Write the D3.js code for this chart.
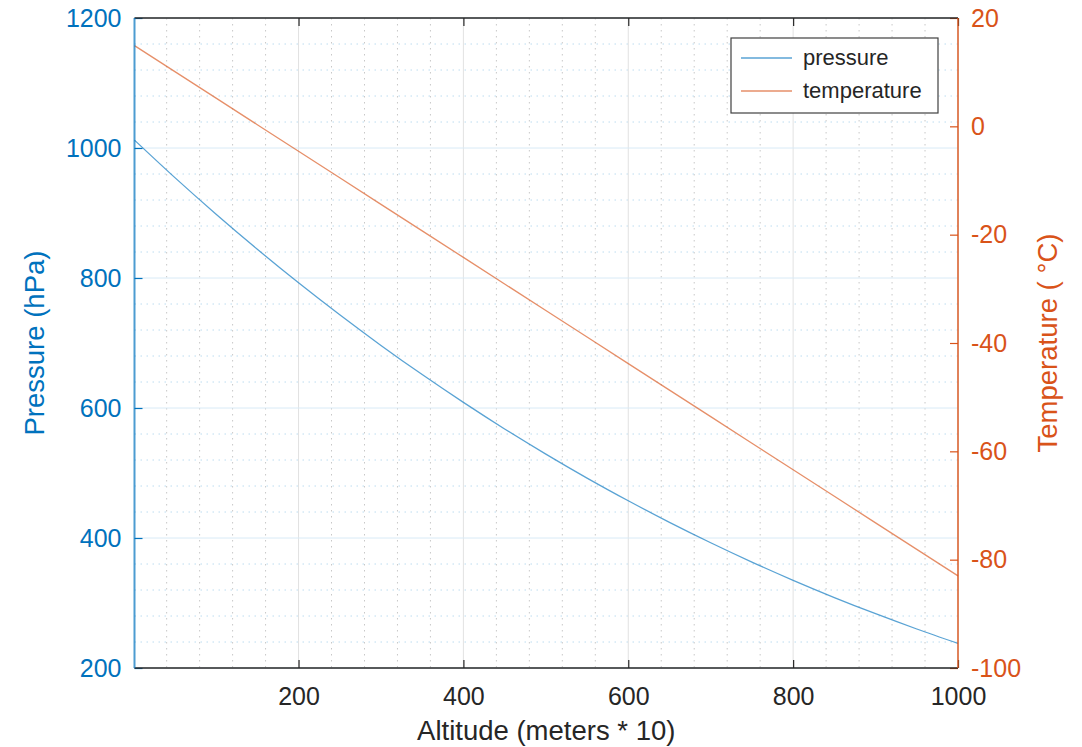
<!DOCTYPE html>
<html>
<head>
<meta charset="utf-8">
<script src="https://cdn.jsdelivr.net/npm/d3@7"></script>
<style>
  body { margin: 0; background: #fff; }
  text { font-family: "Liberation Sans", Arial, sans-serif; }
</style>
</head>
<body>
<div id="mainDiv"></div>
<script>
'use strict';

// altitude in units of 10 m
var altitude = [1, 50, 100, 150, 200, 250, 300, 350, 400, 450, 500,
                550, 600, 650, 700, 750, 800, 850, 900, 950, 1000];
var pressure = [1012.1, 954.4, 898.1, 844.2, 792.6, 743.4, 696.3, 651.4, 608.6, 567.8, 529.1,
                492.2, 457.3, 424.1, 392.7, 363.0, 334.9, 308.4, 283.5, 260.0, 237.9];
var temperature = [14.9, 10.1, 5.2, 0.3, -4.6, -9.5, -14.4, -19.3, -24.2, -29.1, -34.0,
                   -38.9, -43.8, -48.7, -53.6, -58.5, -63.4, -68.3, -73.2, -78.1, -83.0];
var xTicks = [200, 400, 600, 800, 1000];
var pTicks = [200, 400, 600, 800, 1000, 1200];
var tTicks = [-100, -80, -60, -40, -20, 0, 20];
var seriesNames = ['pressure', 'temperature'];

var myApp = {};

myApp.w = 1082;
myApp.h = 747;
myApp.plot = {left: 134.5, right: 958, top: 18, bottom: 668};
myApp.blue = '#0072BD';
myApp.orange = '#D95319';
myApp.dark = '#262626';
myApp.svg = undefined;
myApp.fmt = function(d){ return String(d); };

myApp.x = d3.scaleLinear().domain([1, 1000]).range([myApp.plot.left, myApp.plot.right]);
myApp.yP = d3.scaleLinear().domain([200, 1200]).range([myApp.plot.bottom, myApp.plot.top]);
myApp.yT = d3.scaleLinear().domain([-100, 20]).range([myApp.plot.bottom, myApp.plot.top]);

myApp.appendSvg = function(div)
{
    myApp.svg = d3.select(div).append('svg')
        .attr('width', myApp.w)
        .attr('height', myApp.h);
}

myApp.drawGrid = function()
{
    var p = myApp.plot;
    var g = myApp.svg.append('g').attr('class', 'grid');

    // minor x grid every 40
    var xMinor = d3.range(40, 1000, 40).filter(function(d){ return d % 200 != 0; });
    g.selectAll('.xminor').data(xMinor).enter().append('line')
        .attr('x1', function(d){ return myApp.x(d); })
        .attr('x2', function(d){ return myApp.x(d); })
        .attr('y1', p.top).attr('y2', p.bottom)
        .attr('stroke', '#c8c8c8').attr('stroke-width', 1)
        .attr('stroke-dasharray', '1.5,4.5');

    var yMinor = d3.range(240, 1200, 40).filter(function(d){ return d % 200 != 0; });
    g.selectAll('.yminor').data(yMinor).enter().append('line')
        .attr('x1', p.left).attr('x2', p.right)
        .attr('y1', function(d){ return myApp.yP(d); })
        .attr('y2', function(d){ return myApp.yP(d); })
        .attr('stroke', '#bcdcf0').attr('stroke-width', 1)
        .attr('stroke-dasharray', '1.5,4.5');

    g.selectAll('.xmajor').data(xTicks).enter().append('line')
        .attr('x1', function(d){ return myApp.x(d); })
        .attr('x2', function(d){ return myApp.x(d); })
        .attr('y1', p.top).attr('y2', p.bottom)
        .attr('stroke', '#e2e2e2').attr('stroke-width', 1);

    g.selectAll('.ymajor').data(pTicks).enter().append('line')
        .attr('x1', p.left).attr('x2', p.right)
        .attr('y1', function(d){ return myApp.yP(d); })
        .attr('y2', function(d){ return myApp.yP(d); })
        .attr('stroke', '#d8eaf6').attr('stroke-width', 1);
}

myApp.drawLines = function()
{
    var lineP = d3.line()
        .x(function(d, i){ return myApp.x(altitude[i]); })
        .y(function(d){ return myApp.yP(d); })
        .curve(d3.curveMonotoneX);
    var lineT = d3.line()
        .x(function(d, i){ return myApp.x(altitude[i]); })
        .y(function(d){ return myApp.yT(d); });

    myApp.svg.append('path').datum(pressure)
        .attr('d', lineP)
        .attr('fill', 'none')
        .attr('stroke', myApp.blue).attr('stroke-opacity', 0.65)
        .attr('stroke-width', 1.3);

    myApp.svg.append('path').datum(temperature)
        .attr('d', lineT)
        .attr('fill', 'none')
        .attr('stroke', myApp.orange).attr('stroke-opacity', 0.65)
        .attr('stroke-width', 1.3);
}

myApp.styleAxis = function(g, color, size)
{
    g.select('.domain').remove();
    g.selectAll('.tick line').attr('stroke', color).attr('stroke-width', 1.2);
    g.selectAll('.tick text')
        .attr('fill', color)
        .style('font-size', size + 'px')
        .style('font-family', '"Liberation Sans", Arial, sans-serif');
}

myApp.drawAxes = function()
{
    var p = myApp.plot;

    var bottom = myApp.svg.append('g')
        .attr('transform', 'translate(0,' + p.bottom + ')')
        .call(d3.axisBottom(myApp.x).tickValues(xTicks).tickFormat(myApp.fmt)
            .tickSizeInner(-8).tickSizeOuter(0).tickPadding(19));
    myApp.styleAxis(bottom, myApp.dark, 25);

    var top = myApp.svg.append('g')
        .attr('transform', 'translate(0,' + p.top + ')')
        .call(d3.axisTop(myApp.x).tickValues(xTicks).tickSizeInner(-8).tickSizeOuter(0).tickFormat(''));
    myApp.styleAxis(top, myApp.dark, 25);

    var left = myApp.svg.append('g')
        .attr('transform', 'translate(' + p.left + ',0)')
        .call(d3.axisLeft(myApp.yP).tickValues(pTicks).tickFormat(myApp.fmt)
            .tickSizeInner(-8).tickSizeOuter(0).tickPadding(13));
    myApp.styleAxis(left, myApp.blue, 25);

    var right = myApp.svg.append('g')
        .attr('transform', 'translate(' + p.right + ',0)')
        .call(d3.axisRight(myApp.yT).tickValues(tTicks).tickFormat(myApp.fmt)
            .tickSizeInner(-8).tickSizeOuter(0).tickPadding(13));
    myApp.styleAxis(right, myApp.orange, 25);

    // frame lines
    myApp.svg.append('line')
        .attr('x1', p.left).attr('x2', p.right).attr('y1', p.bottom).attr('y2', p.bottom)
        .attr('stroke', myApp.dark).attr('stroke-width', 1.3);
    myApp.svg.append('line')
        .attr('x1', p.left).attr('x2', p.right).attr('y1', p.top).attr('y2', p.top)
        .attr('stroke', myApp.dark).attr('stroke-width', 1.3);
    myApp.svg.append('line')
        .attr('x1', p.left).attr('x2', p.left).attr('y1', p.top).attr('y2', p.bottom)
        .attr('stroke', myApp.blue).attr('stroke-opacity', 0.7).attr('stroke-width', 2);
    myApp.svg.append('line')
        .attr('x1', p.right).attr('x2', p.right).attr('y1', p.top).attr('y2', p.bottom)
        .attr('stroke', myApp.orange).attr('stroke-opacity', 0.7).attr('stroke-width', 2);

    // labels
    myApp.svg.append('text')
        .attr('x', (p.left + p.right) / 2).attr('y', 739.5)
        .attr('text-anchor', 'middle')
        .attr('fill', myApp.dark)
        .style('font-size', '27.5px')
        .text('Altitude (meters * 10)');

    var midY = (p.top + p.bottom) / 2;
    myApp.svg.append('text')
        .attr('transform', 'translate(43.5,' + midY + ') rotate(-90)')
        .attr('text-anchor', 'middle')
        .attr('fill', myApp.blue)
        .style('font-size', '27.5px')
        .text('Pressure (hPa)');

    myApp.svg.append('text')
        .attr('transform', 'translate(1057,' + midY + ') rotate(-90)')
        .attr('text-anchor', 'middle')
        .attr('fill', myApp.orange)
        .style('font-size', '27.5px')
        .text('Temperature ( \u00B0C)');
}

myApp.drawLegend = function()
{
    var colors = [myApp.blue, myApp.orange];
    var lg = myApp.svg.append('g').attr('transform', 'translate(731,38)');
    lg.append('rect')
        .attr('width', 207).attr('height', 75)
        .attr('fill', '#fff')
        .attr('stroke', '#404040').attr('stroke-width', 1.2);

    var rows = lg.selectAll('.row').data(seriesNames).enter().append('g')
        .attr('transform', function(d, i){ return 'translate(0,' + (20 + i * 33) + ')'; });
    rows.append('line')
        .attr('x1', 10).attr('x2', 61)
        .attr('stroke', function(d, i){ return colors[i]; })
        .attr('stroke-opacity', 0.65)
        .attr('stroke-width', 1.5);
    rows.append('text')
        .attr('x', 72).attr('y', 7)
        .attr('fill', myApp.dark)
        .style('font-size', '22px')
        .text(function(d){ return d; });
}

myApp.run = function()
{
    myApp.appendSvg('#mainDiv');
    myApp.drawGrid();
    myApp.drawLines();
    myApp.drawAxes();
    myApp.drawLegend();
}

window.onload = myApp.run;
</script>
</body>
</html>
